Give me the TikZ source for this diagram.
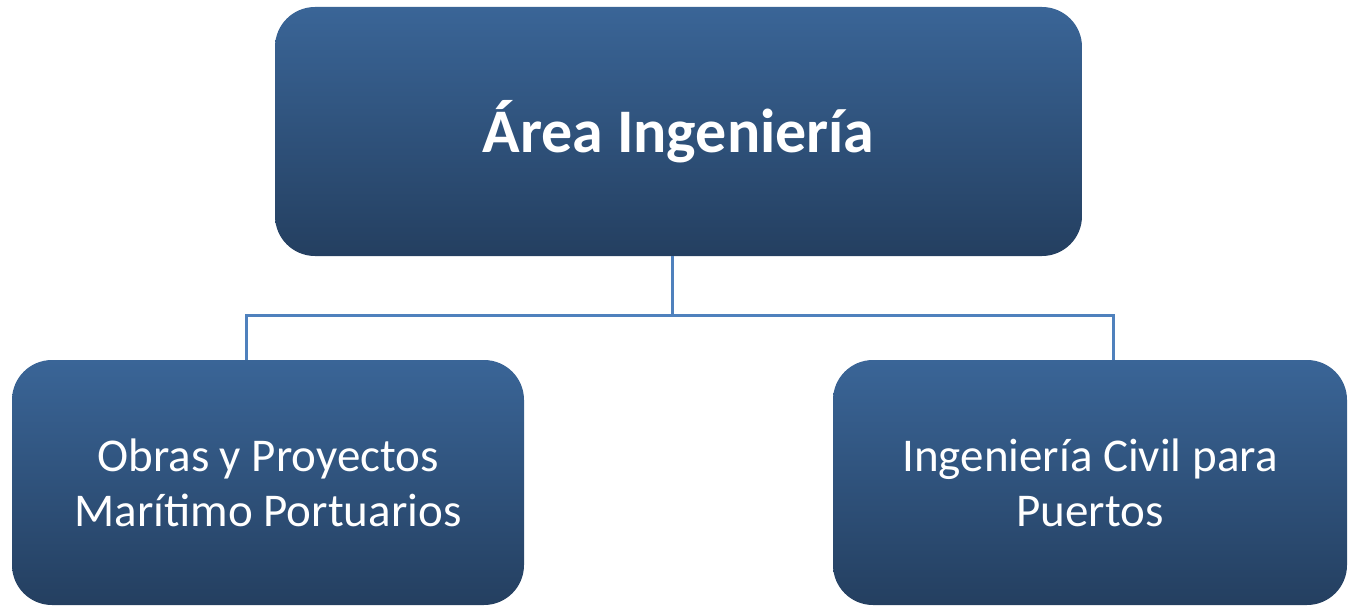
\documentclass[tikz,border=0pt]{standalone}
\usepackage{fontspec}
\setmainfont{Carlito}
\usetikzlibrary{calc}
\definecolor{boxtop}{HTML}{3A6597}
\definecolor{boxbot}{HTML}{243F60}
\definecolor{linkblue}{HTML}{4F81BD}
\tikzset{
  orgbox/.style={rounded corners=40pt, top color=boxtop, bottom color=boxbot, draw=none,
    text=white, align=center, inner sep=0pt},
  link/.style={draw=linkblue, line width=3pt}
}
\begin{document}
\begin{tikzpicture}[x=1pt,y=1pt]
\useasboundingbox (0,0) rectangle (1351,-607);
\node[orgbox, minimum width=807pt, minimum height=249pt,
  font=\fontsize{62}{70}\selectfont\bfseries] (top) at (678.5,-131.5) {Área Ingeniería};
\node[orgbox, minimum width=512pt, minimum height=245pt,
  font=\fontsize{47}{55}\selectfont] (left) at (268,-482.5) {Obras y Proyectos\\Marítimo Portuarios};
\node[orgbox, minimum width=514pt, minimum height=245pt,
  font=\fontsize{47}{55}\selectfont] (right) at (1090,-482.5) {Ingeniería Civil para\\Puertos};
\coordinate (tj) at ($(top.south)+(-6.5,0)$);
\coordinate (bus) at ($(tj)+(0,-59)$);
\coordinate (lj) at ($(left.north)+(-22,0)$);
\coordinate (rj) at ($(right.north)+(23,0)$);
\draw[link] (tj) -- (bus);
\draw[link] (lj) |- (bus) -| (rj);
\end{tikzpicture}
\end{document}
